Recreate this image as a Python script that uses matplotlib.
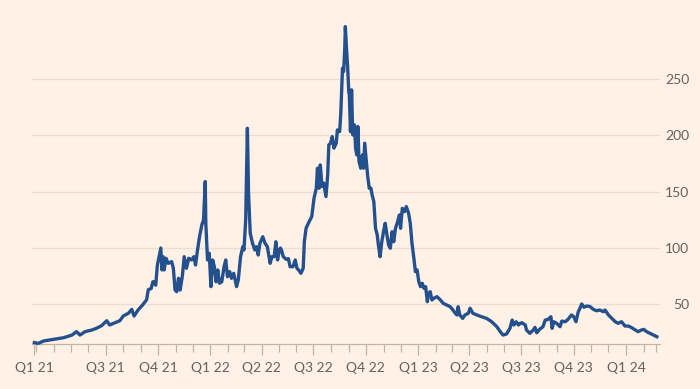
import matplotlib
matplotlib.use("Agg")
import matplotlib.pyplot as plt
import numpy as np
import pandas as pd

# ---- data (days since 26 Feb 2021, price) ----
start_date = "2021-02-26"
days = [0, 7, 16, 27, 39, 51, 57, 66, 74, 80, 89, 101, 109, 118, 127, 132, 139, 150, 156, 165,
        171, 175, 182, 190, 197, 200, 205, 208, 210, 213, 216, 220, 222,
        224, 226, 228, 231, 235, 241, 244, 247, 250, 253, 256, 260, 263, 267, 271, 276, 280,
        283, 286, 290, 294, 297, 300, 301, 304, 307, 310, 313, 316, 319, 322, 325, 329, 333,
        336, 339, 343, 346, 350, 355, 358, 362, 366, 368, 371, 374, 376, 379, 383, 387, 390,
        393, 396, 401, 405, 409, 414, 417, 421, 424, 427, 430, 432, 434, 437, 442, 446, 449,
        454, 458, 461, 464, 468, 472, 474, 477, 481, 487, 491, 495, 497, 500, 502, 505, 508,
        512, 515, 517, 520, 523, 526, 530, 532, 536, 538, 541, 543, 545, 546, 548, 550, 552,
        553, 555, 557, 559, 562, 564, 566, 568, 570, 573, 576, 578, 580, 583, 585, 588, 591,
        593, 596, 599, 602, 604, 607, 610, 613, 616, 619, 622, 625, 628, 631, 634, 637, 641,
        643, 646, 650, 653, 657, 660, 663, 666, 669, 672, 675, 678, 681, 684, 687, 690, 692,
        695, 698, 701, 707, 713, 718, 724, 730, 735, 739, 742, 744, 747, 752, 756, 762, 765,
        770, 777, 785, 794, 803, 812, 818, 823, 829, 835, 839, 842, 846, 850, 853, 856, 862,
        864, 867, 870, 876, 879, 882, 887, 893, 897, 902, 907, 909, 912, 917, 923, 926, 932,
        937, 943, 947, 951, 955, 958, 961, 965, 970, 976, 981, 987, 993, 999, 1002, 1008, 1014,
        1020, 1025, 1031, 1037, 1043, 1049, 1055, 1060, 1066, 1070, 1075, 1081, 1087, 1093]
prices = [16.0, 15.3, 17.4, 18.3, 19.2, 20.3, 21.2, 22.7, 25.7, 22.7, 25.7, 27.2, 28.7, 31.0, 35.4,
          31.6, 33.1, 35.4, 39.6, 42.0, 45.5, 39.6, 44.9, 49.4, 54.0, 63.0, 64.0, 70.0, 70.0, 67.0,
          84.9, 95.3, 100.0,
          80.5, 92.3, 80.5, 90.9, 86.4, 87.9, 82.0, 62.7, 61.2, 73.1, 62.7, 76.0, 92.3, 82.0, 90.9,
          89.4, 92.3, 84.9, 96.7, 110.0, 120.5, 124.9, 159.0, 122.0, 89.4, 95.3, 65.7, 89.4, 83.4,
          70.0, 80.5, 68.7, 70.0, 83.4, 89.4, 74.5, 79.0, 73.1, 77.5, 65.7, 71.6, 92.3, 101.2, 98.3,
          124.9, 206.4, 148.7, 113.1, 104.2, 98.3, 101.2, 93.8, 104.2, 110.0, 104.2, 101.2, 86.4,
          92.3, 92.3, 105.6, 89.4, 98.3, 100.0, 98.0, 92.3, 90.0, 90.5, 83.4, 83.4, 89.4, 82.0,
          80.5, 77.5, 82.0, 105.6, 117.5, 122.0, 127.9, 144.2, 153.1, 170.9, 153.1, 173.8, 154.6,
          157.6, 145.7, 164.9, 191.6, 193.1, 199.0, 188.7, 193.1, 204.9, 203.4, 219.8, 259.8,
          256.8, 277.6, 296.7, 277.6, 261.2, 239.0, 236.0, 203.4, 240.5, 200.5, 209.4, 188.7,
          182.7, 207.9, 176.8, 170.9, 182.7, 170.9, 193.1, 176.8, 164.9, 153.1, 153.1, 147.2,
          141.2, 117.5, 111.6, 102.7, 92.3, 105.6, 114.5, 122.0, 111.6, 102.7, 99.8, 114.5, 105.6,
          117.5, 122.0, 129.4, 117.5, 135.3, 132.3, 136.8, 130.9, 122.0, 104.2, 92.3, 79.0, 80.5,
          70.0, 65.7, 68.7, 64.2, 65.7, 52.3, 59.7, 61.2, 53.8, 55.3, 56.8, 53.8, 50.8, 49.4, 47.9,
          44.9, 42.0, 40.5, 47.9, 40.5, 37.5, 40.5, 42.0, 46.5, 42.0, 40.5, 39.0, 37.5, 34.5, 30.1,
          25.7, 22.7, 23.6, 28.6, 36.0, 31.6, 34.5, 31.6, 33.1, 33.6, 31.6, 27.2, 25.7, 24.2, 27.2,
          29.5, 24.7, 27.7, 30.1, 36.0, 36.6, 39.0, 28.6, 34.5, 33.1, 30.1, 35.1, 34.5, 36.6, 40.5,
          39.0, 34.5, 43.4, 46.5, 50.3, 47.4, 48.5, 47.9, 45.6, 44.3, 44.9, 43.4, 44.9, 40.5, 37.5,
          34.5, 33.1, 34.5, 30.7, 30.7, 29.2, 27.2, 25.7, 27.2, 27.7, 25.7, 24.2, 22.7, 21.2]
y_ticks = [50, 100, 150, 200, 250]
x_major_dates = ["2021-02-26", "2021-07-01", "2021-10-01", "2022-01-01", "2022-04-01",
                 "2022-07-01", "2022-10-01", "2023-01-01", "2023-04-01", "2023-07-01",
                 "2023-10-01", "2024-01-01"]
x_major_labels = ["Q1 21", "Q3 21", "Q4 21", "Q1 22", "Q2 22", "Q3 22", "Q4 22",
                  "Q1 23", "Q2 23", "Q3 23", "Q4 23", "Q1 24"]
end_date = "2024-02-23"

# ---- style ----
BG = "#FFF1E5"
LINE = "#24508E"
GRID = "#E9DED4"
AXIS = "#BDB4AC"
TXT = "#66605C"

plt.rcParams["font.family"] = ["Lato", "DejaVu Sans"]

t0 = pd.Timestamp(start_date)
dates = t0 + pd.to_timedelta(np.array(days), unit="D")

fig = plt.figure(figsize=(7.0, 3.89), dpi=100, facecolor=BG)
ax = fig.add_axes([32 / 700, 1 - 343.7 / 389, (660 - 32) / 700, (343.7 - 15) / 389])
ax.set_facecolor(BG)

ax.plot(dates, prices, color=LINE, lw=2.4, solid_joinstyle="round", clip_on=False, zorder=3)

ax.set_ylim(15, 307)
ax.set_xlim(t0 - pd.Timedelta(days=4.2), t0 + pd.Timedelta(days=1098.5))

# y axis on right, labels right-aligned
ax.yaxis.tick_right()
ax.set_yticks(y_ticks)
ax.set_yticklabels([str(v) for v in y_ticks], ha="right")
ax.tick_params(axis="y", length=0, pad=21, labelsize=10, labelcolor=TXT)
ax.grid(axis="y", color=GRID, lw=1.0, zorder=0)

# x ticks
majors = pd.to_datetime(x_major_dates)
ax.set_xticks(majors)
ax.set_xticklabels(x_major_labels)
months = pd.date_range("2021-03-01", "2024-02-01", freq="MS")
minors = [m for m in months if m not in set(majors)] + [pd.Timestamp(end_date)]
ax.set_xticks(minors, minor=True)
ax.tick_params(axis="x", which="major", length=8, width=0.9, color=AXIS, pad=5.5,
               labelsize=10, labelcolor=TXT)
ax.tick_params(axis="x", which="minor", length=6, width=0.9, color=AXIS)

for s in ["top", "left", "right"]:
    ax.spines[s].set_visible(False)
ax.spines["bottom"].set_color(AXIS)
ax.spines["bottom"].set_linewidth(0.9)

fig.savefig("out.png", dpi=100, facecolor=BG)
